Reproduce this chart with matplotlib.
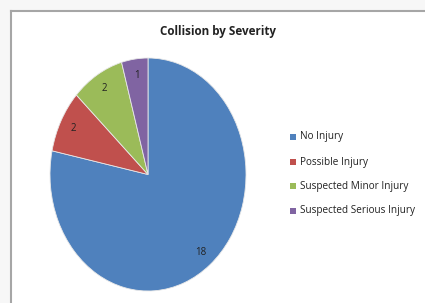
import matplotlib.pyplot as plt
from matplotlib.patches import Rectangle
from matplotlib.lines import Line2D

categories = ['No Injury', 'Possible Injury', 'Suspected Minor Injury', 'Suspected Serious Injury']
counts = [18, 2, 2, 1]
colors = ['#4F81BD', '#C0504D', '#9BBB59', '#8064A2']

W, H = 425, 303
plt.rcParams['font.family'] = ['Open Sans', 'DejaVu Sans']
fig = plt.figure(figsize=(W / 100, H / 100), dpi=100)
fig.patch.set_facecolor('#f7f7f7')

# chart area with grey frame on top and left
fig.patches.append(Rectangle((11 / W, 0), 1, 1 - 11 / H, transform=fig.transFigure,
                             facecolor='white', edgecolor='none', zorder=-1))
fig.add_artist(Line2D([11 / W, 1], [1 - 11 / H, 1 - 11 / H], transform=fig.transFigure,
                      color='#a6a6a6', lw=1.5))
fig.add_artist(Line2D([11 / W, 11 / W], [0, 1 - 11 / H], transform=fig.transFigure,
                      color='#a6a6a6', lw=1.5))

ax = fig.add_axes([50 / W, 12 / H, 196 / W, 233 / H])
ax.set_zorder(2)
wedges, texts = ax.pie(counts, colors=colors, startangle=90, counterclock=False,
                       labels=[str(c) for c in counts], labeldistance=0.86,
                       wedgeprops=dict(linewidth=0.6, edgecolor='#e8e8e8'),
                       textprops=dict(fontsize=7, color='#222222'))
for t in texts:
    t.set_horizontalalignment('center')
    t.set_verticalalignment('center')
ax.set_aspect('auto')
ax.set_xlim(-1, 1)
ax.set_ylim(-1, 1)

fig.text(218 / W, 1 - 32 / H, 'Collision by Severity', ha='center', va='center',
         fontsize=8.4, fontweight='bold', color='#222222')

ys = [137, 162, 186, 211]
for cat, col, y in zip(categories, colors, ys):
    fig.patches.append(Rectangle((290 / W, 1 - (y + 3) / H), 6 / W, 6 / H,
                                 transform=fig.transFigure, facecolor=col, edgecolor='none'))
    fig.text(300 / W, 1 - y / H, cat, ha='left', va='center', fontsize=7.2, color='#222222')

fig.savefig('out.png', dpi=100, facecolor=fig.get_facecolor())
